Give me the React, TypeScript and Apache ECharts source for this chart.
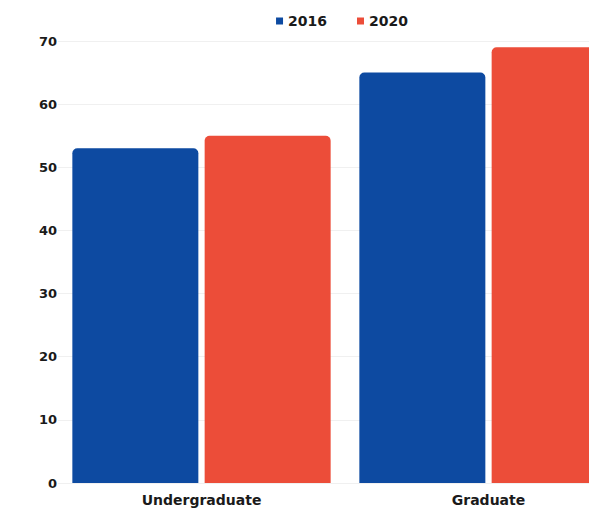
import React, { useEffect, useRef } from "react";
import * as echarts from "echarts";

const categories = ["Undergraduate", "Graduate"];
const seriesNames = ["2016", "2020"];
const values2016 = [53, 65];
const values2020 = [55, 69];
const yTicks = [0, 10, 20, 30, 40, 50, 60, 70];

export default function App() {
  const ref = useRef<HTMLDivElement>(null);
  useEffect(() => {
    if (!ref.current) return;
    const chart = echarts.init(ref.current, undefined, { renderer: "svg" });
    const font = "'DejaVu Sans', sans-serif";
    chart.setOption({
      animation: false,
      backgroundColor: "#ffffff",
      legend: {
        data: seriesNames,
        top: 9,
        left: "center",
        icon: "rect",
        itemWidth: 7,
        itemHeight: 7,
        itemGap: 30,
        textStyle: { fontFamily: font, fontWeight: "bold", fontSize: 14, color: "#1a1a1a" },
      },
      grid: { left: 58, right: 52, top: 41, bottom: 28, containLabel: false },
      xAxis: {
        type: "category",
        data: categories,
        axisLine: { show: false },
        axisTick: { show: false },
        axisLabel: { fontFamily: font, fontWeight: "bold", fontSize: 14, color: "#1a1a1a", margin: 10 },
      },
      yAxis: {
        type: "value",
        min: yTicks[0],
        max: yTicks[yTicks.length - 1],
        interval: 10,
        axisLine: { show: false },
        axisTick: { show: false },
        splitLine: { lineStyle: { color: "#f0f0f0", width: 1 } },
        axisLabel: { fontFamily: font, fontWeight: "bold", fontSize: 13, color: "#1a1a1a", margin: 1 },
      },
      series: [
        {
          name: seriesNames[0],
          type: "bar",
          data: values2016,
          barWidth: 126,
          barGap: "5%",
          itemStyle: { color: "#0d4aa1", borderRadius: [5, 5, 0, 0] },
        },
        {
          name: seriesNames[1],
          type: "bar",
          data: values2020,
          barWidth: 126,
          barGap: "5%",
          itemStyle: { color: "#ec4d39", borderRadius: [5, 5, 0, 0] },
        },
      ],
    });
    return () => chart.dispose();
  }, []);
  return (
    <div style={{ position: "fixed", left: 0, top: 0, width: 589, height: 511, overflow: "hidden", background: "#fff" }}>
      <div ref={ref} style={{ width: 684, height: 511 }} />
    </div>
  );
}
